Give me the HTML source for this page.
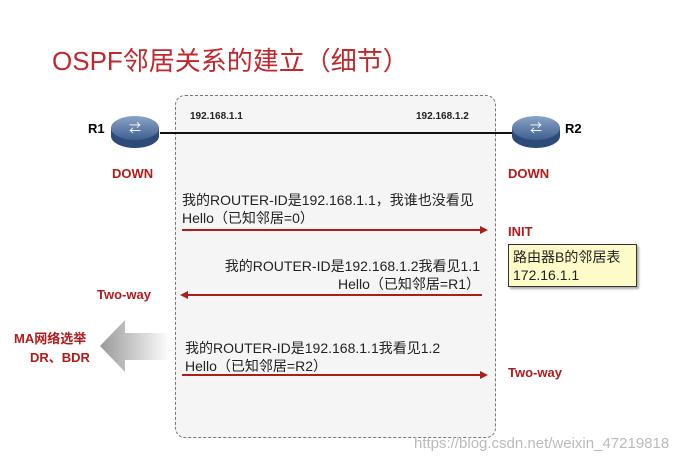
<!DOCTYPE html>
<html><head><meta charset="utf-8"><style>
body{margin:0;width:692px;height:464px;background:#fff;position:relative;overflow:hidden;font-family:"Liberation Sans","Noto Sans CJK SC",sans-serif}
.a{position:absolute;white-space:nowrap}
.red{color:#b01c1c;font-weight:bold;font-size:13px}
.t{font-size:14px;color:#222}
.ip{font-size:10px;font-weight:bold;color:#222}
</style></head><body>
<div class="a" style="left:52px;top:41px;font-size:26px;color:#c0282c">OSPF邻居关系的建立（细节）</div>
<div class="a" style="left:175px;top:95px;width:319px;height:341px;border:1px dashed #777;border-radius:10px;background:#f5f5f5"></div>
<svg class="a" style="left:0;top:0" width="692" height="464">
<defs>
<linearGradient id="g" x1="0" x2="1"><stop offset="0" stop-color="#999"/><stop offset="1" stop-color="#fff"/></linearGradient>
<linearGradient id="rg" x1="0" y1="0" x2="0" y2="1"><stop offset="0" stop-color="#8aa4c8"/><stop offset="1" stop-color="#3f5f8f"/></linearGradient>
</defs>
<line x1="160" y1="133" x2="512" y2="133" stroke="#111" stroke-width="2"/>
<g transform="translate(135,130)"><ellipse cx="0" cy="6" rx="24" ry="12" fill="#2d4a78"/><rect x="-24" y="-2" width="48" height="8" fill="#2d4a78"/><ellipse cx="0" cy="-2" rx="24" ry="12" fill="url(#rg)"/><text x="0" y="2" text-anchor="middle" font-size="12" fill="#fff">⇄</text></g>
<g transform="translate(536,130)"><ellipse cx="0" cy="6" rx="24" ry="12" fill="#2d4a78"/><rect x="-24" y="-2" width="48" height="8" fill="#2d4a78"/><ellipse cx="0" cy="-2" rx="24" ry="12" fill="url(#rg)"/><text x="0" y="2" text-anchor="middle" font-size="12" fill="#fff">⇄</text></g>
<g stroke="#b01c1c" stroke-width="2" fill="#b01c1c">
<line x1="182" y1="230" x2="482" y2="230"/><polygon points="488,230 480,226 480,234" stroke="none"/>
<line x1="186" y1="295" x2="482" y2="295"/><polygon points="180,295 188,291 188,299" stroke="none"/>
<line x1="182" y1="375" x2="482" y2="375"/><polygon points="488,375 480,371 480,379" stroke="none"/>
</g>
<polygon points="100,346 125,320 125,333 170,333 170,360 125,360 125,372" fill="url(#g)"/>
</svg>
<div class="a" style="left:88px;top:121px;font-size:13px;font-weight:bold">R1</div>
<div class="a" style="left:565px;top:121px;font-size:13px;font-weight:bold">R2</div>
<div class="a ip" style="left:190px;top:111px">192.168.1.1</div>
<div class="a ip" style="left:416px;top:111px">192.168.1.2</div>
<div class="a red" style="left:112px;top:166px">DOWN</div>
<div class="a red" style="left:508px;top:166px">DOWN</div>
<div class="a red" style="left:508px;top:224px">INIT</div>
<div class="a red" style="left:97px;top:287px">Two-way</div>
<div class="a red" style="left:508px;top:365px">Two-way</div>
<div class="a red" style="left:14px;top:328px">MA网络选举</div>
<div class="a red" style="left:30px;top:347px">DR、BDR</div>
<div class="a t" style="left:182px;top:190px">我的ROUTER-ID是192.168.1.1，我谁也没看见</div>
<div class="a t" style="left:182px;top:208px">Hello（已知邻居=0）</div>
<div class="a t" style="right:212px;top:257px;text-align:right;line-height:18px">我的ROUTER-ID是192.168.1.2我看见1.1<br>Hello（已知邻居=R1）</div>
<div class="a t" style="left:185px;top:338px">我的ROUTER-ID是192.168.1.1我看见1.2</div>
<div class="a t" style="left:185px;top:356px">Hello（已知邻居=R2）</div>
<div class="a t" style="left:508px;top:244px;width:129px;height:43px;border:1px solid #333;background:#fdfbc8;box-shadow:2px 2px 2px #aaa;padding:3px 0 0 4px;line-height:18px;box-sizing:border-box">路由器B的邻居表<br>172.16.1.1</div>
<div class="a" style="left:414px;top:435px;font-size:15px;color:#bbb">https://blog.csdn.net/weixin_47219818</div>
</body></html>
